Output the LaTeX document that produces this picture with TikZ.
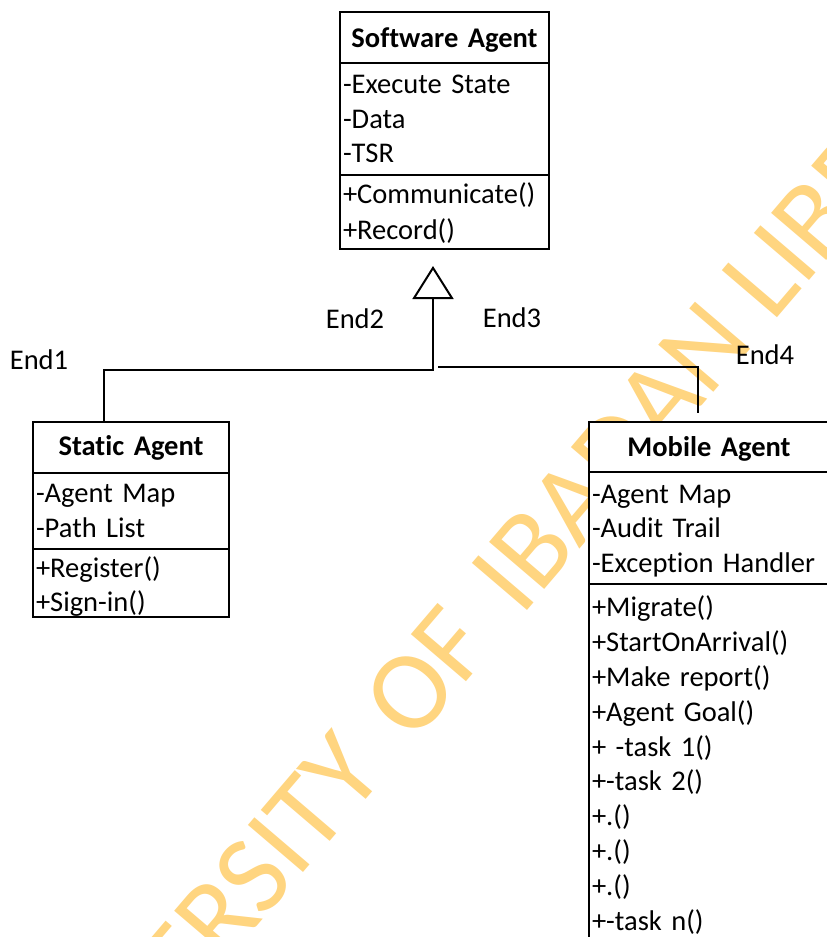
\documentclass[tikz,border=0pt]{standalone}
\usepackage{fontspec}
\setmainfont{Carlito}[Ligatures=NoCommon]
\usetikzlibrary{arrows.meta}
\definecolor{stamp}{HTML}{FFD580}
\newcommand{\lift}[1]{\rule{0pt}{#1}}
\tikzset{
  uml/.style={draw, line width=2pt, fill=white, anchor=north west, outer sep=0pt,
    inner xsep=3pt, inner ysep=0pt, font=\fontsize{28.5}{34.8}\selectfont},
  umlhead/.style={uml, font=\fontsize{28.5}{34.8}\selectfont\bfseries, align=center},
  umlbody/.style={uml, align=left},
  link/.style={line width=1.4pt},
  generalize/.style={-{Triangle[open, length=33pt, width=41pt, line width=2pt]}},
  endlabel/.style={font=\fontsize{28.5}{34.8}\selectfont, inner sep=0pt},
  stamptext/.style={rotate=49.5, anchor=base west, inner sep=0pt, text=stamp,
    font=\fontsize{113}{113}\selectfont},
}
\begin{document}
\begin{tikzpicture}[x=1pt,y=-1pt]
\clip (0,0) rectangle (827,937);
\fill[white] (0,0) rectangle (827,937);

% diagonal library stamp behind the diagram
\node[stamptext] (stamp) at (521.5,617.5)
  {\llap{UNIVERSITY\hskip 40pt OF\hskip 40pt}IBADAN LIBRARY};

% Software Agent class
\node[umlhead, text width=203pt, minimum height=51pt] (sa-head) at (340,12) {\lift{24pt}Software Agent};
\node[umlbody, text width=203pt, minimum height=112pt] (sa-attr) at (sa-head.south west)
  {-Execute State\\-Data\\-TSR};
\node[umlbody, text width=203pt, minimum height=74pt] (sa-ops) at (sa-attr.south west)
  {\lift{23pt}+Communicate()\\[1.5pt]+Record()};

% Static Agent class
\node[umlhead, text width=190pt, minimum height=51pt] (st-head) at (33,422) {Static Agent};
\node[umlbody, text width=190pt, minimum height=76pt] (st-attr) at (st-head.south west)
  {-Agent Map\\-Path List};
\node[umlbody, text width=190pt, minimum height=66pt] (st-ops) at (st-attr.south west)
  {\lift{28pt}+Register()\\+Sign-in()};

% Mobile Agent class
\node[umlhead, text width=234pt, minimum height=50pt] (mb-head) at (589,422) {\lift{24pt}Mobile Agent};
\node[umlbody, text width=234pt, minimum height=112pt] (mb-attr) at (mb-head.south west)
  {\lift{24.5pt}-Agent Map\\-Audit Trail\\-Exception Handler};
\node[umlbody, text width=234pt, minimum height=362pt] (mb-ops) at (mb-attr.south west)
  {+Migrate()\\+StartOnArrival()\\+Make report()\\+Agent Goal()\\+ -task 1()\\+-task 2()\\+.()\\+.()\\+.()\\+-task n()};

% generalization connectors
\coordinate (gen-tip) at (433,266);
\coordinate (gen-joint) at (433,370);
\draw[link, generalize] ([xshift=-27pt]st-head.north) |- (gen-joint) -- (gen-tip);
\coordinate (branch-start) at (438,367);
\draw[link] (branch-start) -| ([xshift=-11pt, yshift=9pt]mb-head.north);

% association end labels
\node[endlabel] (end1) at (39,360) {End1};
\node[endlabel] (end2) at (355,319) {End2};
\node[endlabel] (end3) at (512,318) {End3};
\node[endlabel] (end4) at (765,355) {End4};
\end{tikzpicture}
\end{document}
